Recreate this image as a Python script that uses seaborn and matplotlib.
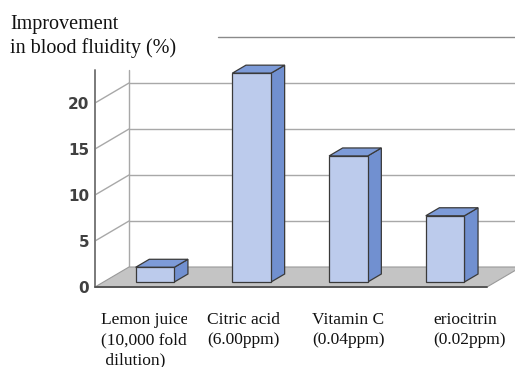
import matplotlib
matplotlib.use("Agg")
import matplotlib.pyplot as plt
import seaborn as sns
import pandas as pd
from matplotlib.patches import Polygon
from matplotlib.transforms import Bbox

# ---- data -------------------------------------------------------------
categories = ["Lemon juice", "Citric acid", "Vitamin C", "eriocitrin"]
improvement = [1.6, 22.7, 13.7, 7.2]
label_lines = [
    ["Lemon juice", "(10,000 folds", " dilution)"],
    ["Citric acid", "(6.00ppm)"],
    ["Vitamin C", "(0.04ppm)"],
    ["eriocitrin", "(0.02ppm)"],
]
y_ticks = [0, 5, 10, 15, 20]
y_top = 25
title_lines = ["Improvement", "in blood fluidity (%)"]

# ---- styling ------------------------------------------------------------
FRONT = "#bccbec"
SIDE = "#7190d0"
TOP = "#7d9bd8"
EDGE = "#3a3a3a"
GRID = "#a8a8a8"
FLOOR = "#c4c4c4"
SERIF = ["Liberation Serif", "DejaVu Serif"]

sns.set_style("white")

W, H = 515, 367
fig = plt.figure(figsize=(W / 100, H / 100), dpi=100)
ax = fig.add_axes([0, 0, 1, 1])

# pixel scale of the drawing: one category step and one value unit
SX, SY = 96.7, 9.2
X0_PX, Y0_PX = 155, 282          # first category centre / bar base
# depth vector of the floor (data units) and where the bars sit in it
DX, DY = 34 / SX, 20 / SY
BAR_D0, BAR_DEPTH = 0.25, 0.4


def proj(x, v, d):
    """Point at category x, value v and depth d (0 = front, 1 = back)."""
    return (x + (d - BAR_D0) * DX, v + (d - BAR_D0) * DY)


x_wall = (95 - X0_PX) / SX + BAR_D0 * DX
x_end = (487 - X0_PX) / SX + BAR_D0 * DX
x_right = (W - X0_PX) / SX
wall_top = (Y0_PX - 70) / SY

# back wall gridlines
for v in y_ticks[1:]:
    xb, yb = proj(x_wall, v, 1)
    ax.plot([xb, x_right + 1], [yb, yb], color=GRID, lw=1.0, zorder=0.5)
xb, yb = proj(x_wall, y_top, 1)
ax.plot([(218 - X0_PX) / SX, x_right + 1], [yb, yb], color="#8a8a8a", lw=1.0, zorder=0.5)

# left wall: diagonals and vertical edges
for v in y_ticks[1:]:
    xf, yf = proj(x_wall, v, 0)
    xb, yb = proj(x_wall, v, 1)
    ax.plot([xf, xb], [yf, yb], color=GRID, lw=1.0, zorder=0.6)
xf, yf = proj(x_wall, 0, 0)
xb, yb = proj(x_wall, 0, 1)
ax.plot([xf, xf], [yf, wall_top], color="#7a7a7a", lw=1.4, zorder=0.7)
ax.plot([xb, xb], [yb, wall_top], color=GRID, lw=1.0, zorder=0.7)

# floor
floor = Polygon([proj(x_wall, 0, 0), proj(x_wall, 0, 1),
                 proj(x_end, 0, 1), proj(x_end, 0, 0)],
                closed=True, facecolor=FLOOR, edgecolor="#9a9a9a",
                lw=0.8, zorder=1)
ax.add_patch(floor)
p0, p1 = proj(x_wall, 0, 0), proj(x_end, 0, 0)
ax.plot([p0[0], p1[0]], [p0[1], p1[1]], color="#555555", lw=1.4, zorder=1.2)

# bars: front faces from seaborn, then side and top faces from each bar
df = pd.DataFrame({"item": categories, "value": improvement})
sns.barplot(data=df, x="item", y="value", order=categories, width=0.4,
            color=FRONT, saturation=1, edgecolor=EDGE, linewidth=0.9,
            ax=ax, zorder=3)
bdx, bdy = BAR_DEPTH * DX, BAR_DEPTH * DY
for bar in ax.containers[0]:
    x0 = bar.get_x()
    x1 = x0 + bar.get_width()
    h = bar.get_height()
    side = Polygon([(x1, 0), (x1 + bdx, bdy), (x1 + bdx, h + bdy), (x1, h)],
                   closed=True, facecolor=SIDE, edgecolor=EDGE, lw=0.9, zorder=2.9)
    top = Polygon([(x0, h), (x1, h), (x1 + bdx, h + bdy), (x0 + bdx, h + bdy)],
                  closed=True, facecolor=TOP, edgecolor=EDGE, lw=0.9, zorder=2.9)
    ax.add_patch(side)
    ax.add_patch(top)

ax.set_xlim(-X0_PX / SX, (W - X0_PX) / SX)
ax.set_ylim(-(H - Y0_PX) / SY, Y0_PX / SY)
ax.axis("off")

# value labels on the front edge of the left wall
for v in y_ticks:
    xf, yf = proj(x_wall, v, 0)
    ax.text(xf - 6 / SX, yf - 1.5 / SY, str(v), ha="right", va="center",
            fontsize=11, family="DejaVu Sans", fontweight="bold",
            color="#404040")

# category labels under the floor
label_x_px = [101, 207, 312, 433]
for i, (lines, lx) in enumerate(zip(label_lines, label_x_px)):
    for j, line in enumerate(lines):
        t = fig.text(lx / W, 1 - (324 + 20 * j) / H, line, ha="left",
                     va="baseline", fontsize=12.5, family=SERIF, color="#111111")
        if i == 0:
            t.set_clip_box(Bbox.from_extents(0, 0, 187, H))

# axis title, top left
for j, line in enumerate(title_lines):
    fig.text(10 / W, 1 - (29 + 24 * j) / H, line, ha="left", va="baseline",
             fontsize=14.5, family=SERIF, color="#111111")

fig.savefig("out.png", dpi=100)
